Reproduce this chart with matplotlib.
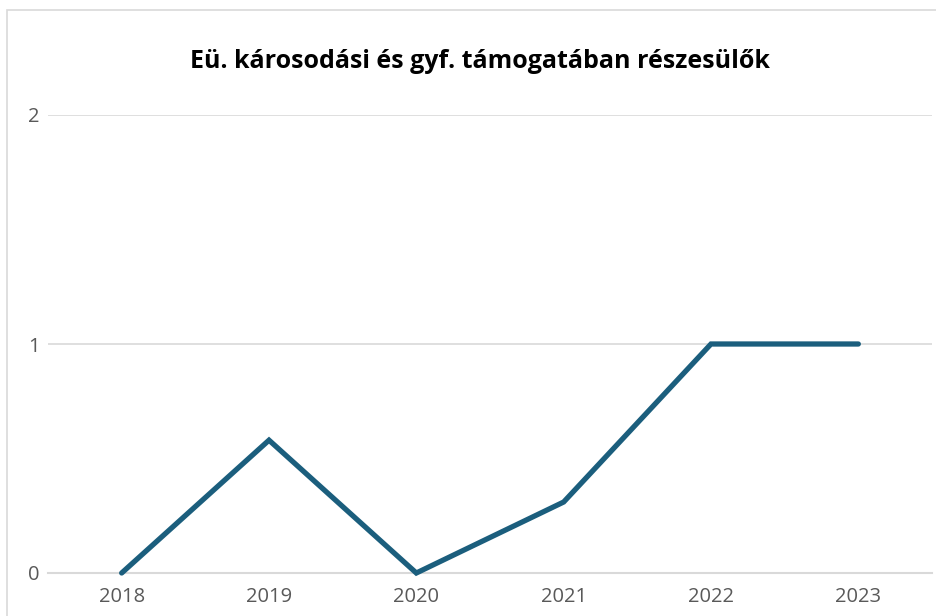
"""Recreate the line chart of recipients of health-damage support."""

import matplotlib

matplotlib.use("Agg")
import matplotlib.pyplot as plt
from matplotlib.patches import Rectangle

years = ["2018", "2019", "2020", "2021", "2022", "2023"]
recipients = [0, 0.58, 0, 0.31, 1, 1]
y_ticks = [0, 1, 2]
title = "Eü. károsodási és gyf. támogatában részesülők"

plt.rcParams["font.family"] = ["Open Sans", "DejaVu Sans"]

fig = plt.figure(figsize=(9.36, 6.16), dpi=100)
# light frame, cut off at the right and bottom edges like the source
fig.patches.append(
    Rectangle((7 / 936, -0.01), 1.05, 1 - 10 / 616 + 0.01, transform=fig.transFigure,
              fill=False, edgecolor="#d9d9d9", linewidth=1.2)
)
ax = fig.add_axes([48 / 936, 1 - 573 / 616, (932 - 48) / 936, (573 - 115) / 616])

x = range(len(years))
ax.plot(x, recipients, color="#1b5e7d", linewidth=3.8, solid_capstyle="round",
        solid_joinstyle="miter", zorder=3, clip_on=False)

ax.set_xlim(-0.5, len(years) - 0.5)
ax.set_ylim(0, 2)
ax.set_xticks(list(x))
ax.set_xticklabels(years)
ax.set_yticks(y_ticks)
ax.set_yticklabels([str(t) for t in y_ticks])
ax.tick_params(axis="both", length=0, labelsize=14.5, labelcolor="#595959")
ax.tick_params(axis="x", pad=10)
ax.tick_params(axis="y", pad=6)
ax.grid(axis="y", color="#d9d9d9", linewidth=1.2)
ax.set_axisbelow(True)
for side in ("top", "right", "left"):
    ax.spines[side].set_visible(False)
ax.spines["bottom"].set_color("#d9d9d9")
ax.spines["bottom"].set_linewidth(1.5)

fig.text(480 / 936, 1 - 62 / 616, title, ha="center", va="center",
         fontsize=18, fontweight="bold", color="#000000")

fig.savefig("out.png", dpi=100)
plt.close(fig)
